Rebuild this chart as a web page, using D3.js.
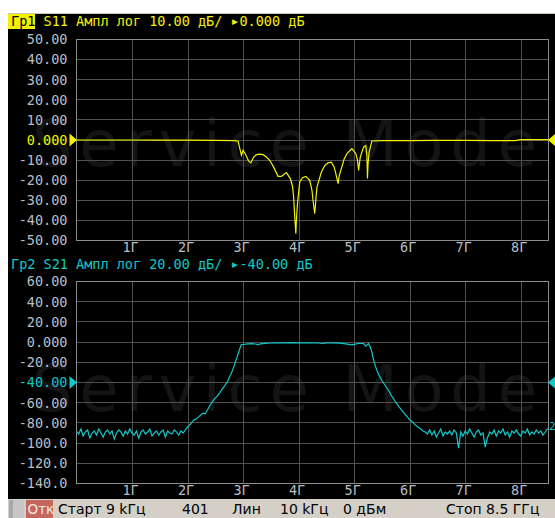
<!DOCTYPE html>
<html><head><meta charset="utf-8">
<script src="https://cdn.jsdelivr.net/npm/d3@7"></script>
<style>
html,body{margin:0;padding:0;background:#fff;}
svg{display:block;}
</style></head><body>
<svg id="c" width="555" height="518"></svg>
<script>
// ---------- data ----------
const freqTicks = [1, 2, 3, 4, 5, 6, 7, 8];
const freqTickLabels = ["1Г", "2Г", "3Г", "4Г", "5Г", "6Г", "7Г", "8Г"];

const s11Ticks = [50, 40, 30, 20, 10, 0, -10, -20, -30, -40, -50];
const s11TickLabels = ["50.00", "40.00", "30.00", "20.00", "10.00", "0.000", "-10.00", "-20.00", "-30.00", "-40.00", "-50.00"];
const s21Ticks = [60, 40, 20, 0, -20, -40, -60, -80, -100, -120, -140];
const s21TickLabels = ["60.00", "40.00", "20.00", "0.000", "-20.00", "-40.00", "-60.00", "-80.00", "-100.0", "-120.0", "-140.0"];

const s11Ref = 0;
const s21Ref = -40;

// S11 (GHz, dB)
const s11Freq = [0, 0.5, 1.0, 1.5, 2.0, 2.5, 2.85, 2.91, 2.97, 3.00, 3.05, 3.10, 3.14, 3.19, 3.24, 3.30, 3.36, 3.42, 3.48, 3.55,
  3.63, 3.69, 3.74, 3.78, 3.85, 3.89, 3.91, 3.93, 3.95, 3.96, 3.98, 4.02, 4.07, 4.13, 4.20, 4.24, 4.26, 4.29, 4.31, 4.33,
  4.41, 4.47, 4.53, 4.59, 4.64, 4.67, 4.71, 4.73, 4.76, 4.82, 4.87, 4.96, 5.03, 5.06, 5.08, 5.11, 5.17, 5.21, 5.23, 5.24,
  5.25, 5.27, 5.32, 5.5, 6.0, 6.5, 7.0, 7.5, 7.9, 8.0, 8.5];
const s11Db = [0, 0, 0, -0.1, -0.1, -0.2, -0.3, -0.6, -7.6, -5.1, -7.5, -10.5, -11.4, -8.5, -7.3, -7.0, -7.3, -8.5, -10.1, -13.5,
  -18.1, -18.1, -17.0, -16.2, -19.2, -23, -28.3, -38, -46.6, -40, -31.5, -20.9, -18.8, -18.1, -20.1, -25, -30, -36.6, -30, -23.4,
  -15.9, -12.8, -11.4, -11.0, -13.5, -16.7, -21.7, -18, -15.1, -9.5, -6.8, -4.3, -6.8, -10, -15.1, -8.5, -3.5, -2.8, -8, -19.2,
  -12, -6.0, -0.5, -0.3, -0.3, -0.2, -0.2, -0.3, -0.3, 0.2, 0.2];

// S21 (GHz, dB)
const s21Trace = [
  [0.00,-88],[0.04,-91],[0.08,-86],[0.12,-93],[0.16,-89],[0.20,-87],[0.24,-95],[0.28,-90],[0.32,-88],[0.36,-92],
  [0.40,-86],[0.44,-90],[0.48,-94],[0.52,-89],[0.56,-87],[0.60,-91],[0.64,-88],[0.68,-96],[0.72,-90],[0.76,-87],
  [0.80,-89],[0.84,-93],[0.88,-88],[0.92,-91],[0.96,-86],[1.00,-90],[1.04,-92],[1.08,-88],[1.12,-95],[1.16,-89],
  [1.20,-87],[1.24,-91],[1.28,-89],[1.32,-86],[1.36,-93],[1.40,-90],[1.44,-88],[1.48,-92],[1.52,-89],[1.56,-87],
  [1.60,-94],[1.64,-88],[1.68,-90],[1.72,-91],[1.76,-87],[1.80,-89],[1.84,-92],[1.88,-88],[1.92,-90],
  [1.96,-87],[2.00,-84],[2.04,-82],[2.08,-79],[2.12,-77],[2.16,-76],[2.20,-74],[2.24,-72],[2.28,-70.4],[2.32,-71],
  [2.36,-67],[2.40,-63],[2.45,-59],[2.49,-56],[2.54,-53],[2.58,-50],[2.63,-46],[2.67,-43],[2.72,-39],[2.76,-34],
  [2.79,-30.5],[2.82,-26.5],[2.85,-21.5],[2.88,-16.6],[2.91,-11.5],[2.93,-8.3],[2.95,-5],[2.97,-2.4],[3.00,-2.3],[3.05,-2.0],
  [3.09,-1.7],[3.15,-1.6],[3.22,-1.9],[3.27,-2.4],[3.31,-1.7],[3.40,-1.2],[3.50,-0.9],[3.57,-0.7],[3.70,-0.7],[3.85,-0.6],
  [4.03,-0.7],[4.20,-0.8],[4.35,-0.9],[4.44,-1.4],[4.50,-0.7],[4.60,-0.8],[4.74,-1.0],[4.85,-1.8],[4.96,-2.7],[5.02,-2.0],
  [5.08,-1.4],[5.17,-1.4],[5.21,-4.0],[5.26,-1.4],[5.29,-5],[5.32,-10],[5.34,-15],[5.36,-19.9],[5.41,-28.1],[5.45,-33],
  [5.50,-38],[5.56,-43],[5.62,-47.9],[5.66,-52],[5.71,-56.1],[5.76,-60.5],[5.82,-65],[5.88,-69],[5.94,-73],[6.00,-77],
  [6.05,-79],[6.10,-82],[6.15,-84],[6.20,-86],[6.24,-88],
  [6.28,-89],[6.32,-91],[6.36,-87],[6.40,-92],[6.44,-88],[6.48,-94],[6.52,-90],[6.56,-86],[6.60,-93],[6.64,-89],
  [6.68,-91],[6.72,-88],[6.76,-92],[6.80,-87],[6.84,-90],[6.88,-105],[6.92,-89],[6.96,-93],[7.00,-88],[7.04,-91],
  [7.08,-86],[7.12,-90],[7.16,-94],[7.20,-89],[7.24,-87],[7.28,-92],[7.32,-90],[7.36,-104],[7.40,-95],[7.44,-89],
  [7.48,-91],[7.52,-87],[7.56,-93],[7.60,-88],[7.64,-90],[7.68,-86],[7.72,-92],[7.76,-89],[7.80,-94],[7.84,-88],
  [7.88,-90],[7.92,-87],[7.96,-91],[8.00,-93],[8.04,-88],[8.08,-90],[8.12,-86],[8.16,-92],[8.20,-89],[8.24,-91],
  [8.28,-87],[8.32,-90],[8.36,-88],[8.40,-92],[8.44,-89],[8.48,-86],[8.50,-86]
];

const s11Title = ["S11 Ампл лог 10.00 дБ/ ", "▸", "0.000 дБ"];
const s21Title = ["S21 Ампл лог 20.00 дБ/ ", "▸", "-40.00 дБ"];
const statusItems = [["Старт 9 kГц", 58], ["401", 182], ["Лин", 232], ["10 kГц", 280], ["0 дБм", 343], ["Стоп 8.5 ГГц", 446]];

// ---------- drawing ----------
const svg = d3.select("#c");
const MONO = "'DejaVu Sans Mono', monospace";
const YEL = "#f2f200", CYA = "#10c8c8", LBL = "#b8bec6";

svg.append("rect").attr("x", 0).attr("y", 0).attr("width", 555).attr("height", 518).attr("fill", "#fff");
svg.append("rect").attr("x", 8).attr("y", 13).attr("width", 547).attr("height", 1).attr("fill", "#cfc8b8");
svg.append("rect").attr("x", 8).attr("y", 14).attr("width", 547).attr("height", 485).attr("fill", "#000");

const x = d3.scaleLinear().domain([0, 8.5]).range([76.5, 548.5]);

const panels = [
  {id: "p1", top: 39.5, bottom: 240.5, domain: [-50, 50], ticks: s11Ticks, labels: s11TickLabels, ref: s11Ref,
   color: YEL, titleY: 26, title: s11Title, tag: "Гр1", active: true, wmY: 166,
   data: s11Freq.map((f, i) => [f, s11Db[i]])},
  {id: "p2", top: 281.5, bottom: 483.5, domain: [-140, 60], ticks: s21Ticks, labels: s21TickLabels, ref: s21Ref,
   color: CYA, titleY: 269, title: s21Title, tag: "Гр2", active: false, wmY: 411,
   data: s21Trace}
];

panels.forEach(p => {
  const g = svg.append("g");
  const y = d3.scaleLinear().domain(p.domain).range([p.bottom, p.top]);

  // watermark
  g.append("text").attr("x", 32).attr("y", p.wmY).attr("font-family", "'DejaVu Sans', sans-serif")
    .attr("font-size", 64).attr("fill", "#141414").attr("textLength", 505).attr("lengthAdjust", "spacing")
    .text("Service Mode");

  // grid
  const grid = g.append("g").attr("shape-rendering", "crispEdges").attr("stroke", "#505050").attr("stroke-width", 1);
  freqTicks.forEach(t => {
    const xx = Math.round(x(t)) + 0.5;
    grid.append("line").attr("x1", xx).attr("x2", xx).attr("y1", p.top).attr("y2", p.bottom);
  });
  p.ticks.slice(1, -1).forEach(t => {
    const yy = Math.round(y(t) - 0.5) + 0.5;
    grid.append("line").attr("x1", x.range()[0]).attr("x2", x.range()[1]).attr("y1", yy).attr("y2", yy);
  });
  g.append("rect").attr("x", x.range()[0]).attr("y", p.top).attr("width", x.range()[1] - x.range()[0])
    .attr("height", p.bottom - p.top).attr("fill", "none").attr("stroke", "#8c8c8c").attr("shape-rendering", "crispEdges");

  // y axis
  const ya = g.append("g").attr("transform", `translate(${x.range()[0]},0)`)
    .call(d3.axisLeft(y).tickValues(p.ticks).tickFormat((d, i) => p.labels[i]).tickSize(0).tickPadding(9));
  ya.select(".domain").remove();
  ya.selectAll("text").attr("font-family", MONO).attr("font-size", 13.5)
    .attr("fill", d => d === p.ref ? p.color : LBL);

  // x axis
  const xa = g.append("g").attr("transform", `translate(0,${p.bottom})`)
    .call(d3.axisBottom(x).tickValues(freqTicks).tickFormat((d, i) => freqTickLabels[i]).tickSize(0).tickPadding(2));
  xa.select(".domain").remove();
  xa.selectAll("text").attr("font-family", MONO).attr("font-size", 13.5).attr("fill", LBL).attr("dx", -2);

  // trace
  const cid = "clip-" + p.id;
  svg.append("clipPath").attr("id", cid).append("rect").attr("x", x.range()[0]).attr("y", p.top)
    .attr("width", x.range()[1] - x.range()[0]).attr("height", p.bottom - p.top);
  g.append("path").datum(p.data).attr("clip-path", `url(#${cid})`)
    .attr("fill", "none").attr("stroke", p.color).attr("stroke-width", 1.2)
    .attr("d", d3.line().x(d => x(d[0])).y(d => y(d[1])));

  // reference markers
  const ry = y(p.ref);
  const xl = x.range()[0], xr = x.range()[1];
  g.append("path").attr("fill", p.color).attr("d", `M${xl - 7},${ry - 6.5}L${xl + 0.5},${ry}L${xl - 7},${ry + 6.5}Z`);
  g.append("path").attr("fill", p.color).attr("d", `M${xr + 7},${ry - 6.5}L${xr - 0.5},${ry}L${xr + 7},${ry + 6.5}Z`);

  // title
  if (p.active) {
    g.append("rect").attr("x", 8).attr("y", p.titleY - 12).attr("width", 27).attr("height", 15).attr("fill", YEL);
  }
  const tt = g.append("text").attr("x", 11).attr("y", p.titleY).attr("font-family", MONO).attr("font-size", 13.5)
    .attr("fill", p.color).attr("xml:space", "preserve");
  tt.append("tspan").attr("fill", p.active ? "#000" : p.color).text(p.tag + " ");
  tt.append("tspan").text(p.title[0]);
  tt.append("tspan").attr("font-size", 15).text(p.title[1]);
  tt.append("tspan").text(p.title[2]);
});

// trace number label at the end of S21
const y2 = d3.scaleLinear().domain([-140, 60]).range([483.5, 281.5]);
svg.append("text").attr("x", 549).attr("y", y2(s21Trace[s21Trace.length - 1][1]) + 1)
  .attr("font-family", MONO).attr("font-size", 11).attr("fill", CYA).text("2");

// status bar
const SANS = "'DejaVu Sans', sans-serif";
const sb = svg.append("g");
sb.append("rect").attr("x", 8).attr("y", 499).attr("width", 547).attr("height", 19).attr("fill", "#d4d0c8");
sb.append("rect").attr("x", 9).attr("y", 500).attr("width", 15).attr("height", 18).attr("fill", "#a9a9a9");
sb.append("rect").attr("x", 13).attr("y", 500).attr("width", 11).attr("height", 18).attr("fill", "#c6c6c6");
sb.append("rect").attr("x", 26).attr("y", 500).attr("width", 27).attr("height", 18).attr("fill", "#c4675c");
sb.append("text").attr("x", 27.5).attr("y", 514).attr("font-family", SANS).attr("font-size", 13.5)
  .attr("fill", "#f4e8e4").text("Отк");
statusItems.forEach(([t, xx]) => {
  sb.append("text").attr("x", xx).attr("y", 514).attr("font-family", SANS).attr("font-size", 14)
    .attr("fill", "#000").text(t);
});
</script>
</body></html>
